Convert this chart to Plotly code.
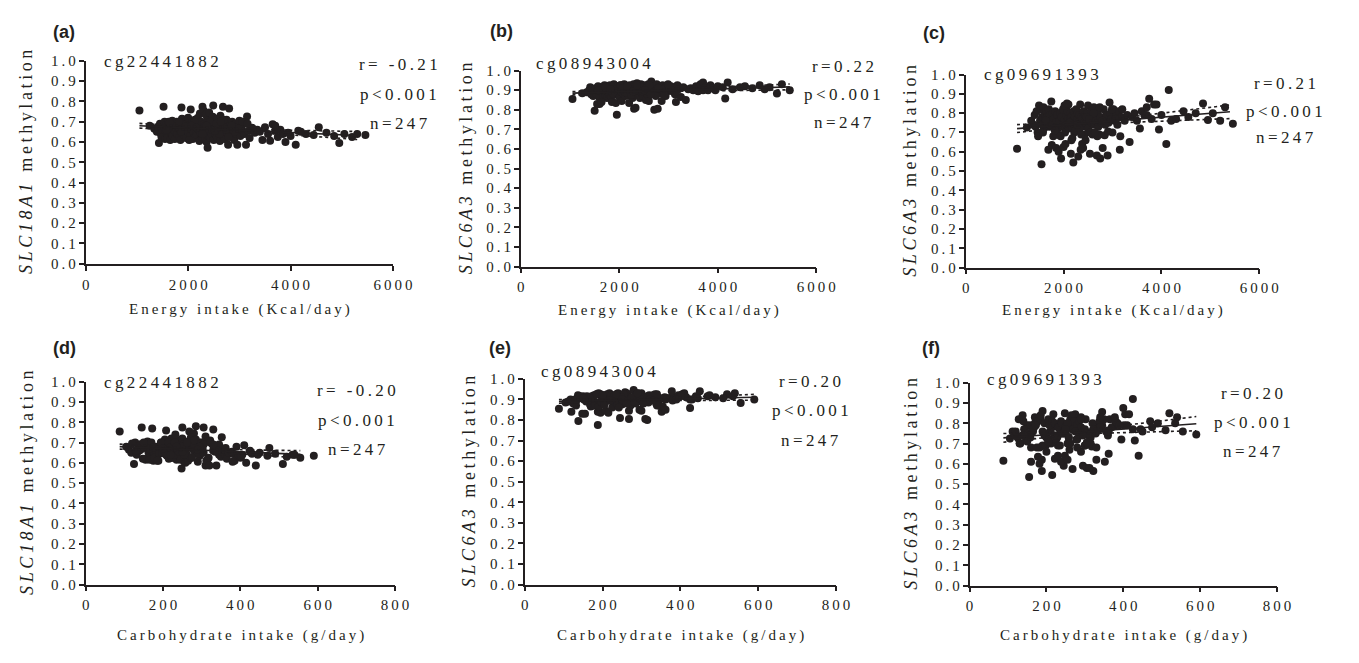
import numpy as np
import plotly.graph_objects as go

# ---------------- data ----------------
energy = [
    1050, 1250, 1340, 1390, 1410, 1430, 1450, 1470, 1480, 1500,
    1520, 1540, 1550, 1560, 1570, 1590, 1600, 1620, 1630, 1650,
    1660, 1670, 1690, 1700, 1710, 1720, 1740, 1750, 1760, 1780,
    1790, 1800, 1810, 1830, 1840, 1850, 1870, 1880, 1890, 1900,
    1920, 1930, 1950, 1960, 1970, 1990, 2000, 2010, 2030, 2040,
    2050, 2060, 2080, 2090, 2100, 2110, 2130, 2140, 2150, 2160,
    2170, 2190, 2200, 2210, 2220, 2230, 2250, 2260, 2270, 2280,
    2290, 2300, 2310, 2320, 2330, 2340, 2350, 2360, 2370, 2380,
    2390, 2400, 2410, 2420, 2440, 2450, 2460, 2480, 2490, 2500,
    2510, 2530, 2540, 2560, 2570, 2590, 2600, 2620, 2630, 2650,
    2660, 2680, 2700, 2710, 2730, 2750, 2760, 2780, 2800, 2820,
    2840, 2860, 2880, 2900, 2920, 2940, 2960, 2980, 3000, 3020,
    3050, 3080, 3100, 3130, 3150, 3180, 3200, 3250, 3300, 3350,
    3400, 3450, 3500, 3560, 3600, 3650, 3700, 3750, 3800, 3850,
    3900, 3950, 4000, 4100, 4150, 4200, 4300, 4450, 4550, 4700,
    4850, 4950, 5050, 5200, 5300, 5460,
    1580, 1720, 1860, 1940, 2020, 2120, 2180, 2240, 2330, 2430,
    2470, 2550, 2610, 2690, 2740, 2850, 2910, 3060, 1640, 2070,
    1820, 2160, 2280, 2360, 2520, 2640, 2790, 2990, 3160, 3700,
]

carbs = [
    88, 105, 112, 118, 150, 125, 140, 132, 160, 138,
    145, 128, 155, 162, 137, 170, 148, 158, 142, 175,
    152, 168, 160, 185, 158, 172, 165, 190, 178, 170,
    182, 165, 195, 178, 200, 188, 172, 205, 190, 182,
    210, 195, 188, 215, 200, 205, 222, 190, 212, 230,
    208, 225, 215, 235, 218, 205, 240, 222, 245, 230,
    228, 250, 215, 238, 255, 232, 245, 262, 225, 250,
    240, 268, 230, 252, 245, 275, 238, 258, 265, 248,
    270, 255, 280, 242, 262, 290, 258, 272, 285, 265,
    278, 262, 295, 272, 285, 300, 268, 290, 310, 280,
    295, 305, 285, 315, 300, 322, 290, 310, 330, 302,
    318, 300, 335, 312, 328, 345, 320, 338, 315, 350,
    330, 345, 360, 338, 352, 340, 365, 355, 380, 362,
    370, 385, 362, 395, 380, 410, 378, 400, 425, 405,
    415, 430, 402, 440, 425, 450, 445, 470, 475, 490,
    520, 510, 535, 555, 540, 590,
    130, 142, 198, 175, 185, 195, 260, 205, 280, 230,
    250, 305, 255, 280, 340, 295, 305, 322, 120, 248,
    150, 200, 220, 235, 250, 262, 275, 290, 330, 390,
]

meth_cg22441882 = [
    0.755, 0.680, 0.665, 0.650, 0.675, 0.595, 0.690, 0.640, 0.625, 0.660,
    0.774, 0.700, 0.615, 0.655, 0.685, 0.640, 0.620, 0.700, 0.665, 0.610,
    0.675, 0.645, 0.705, 0.630, 0.690, 0.660, 0.615, 0.680, 0.650, 0.700,
    0.640, 0.670, 0.690, 0.625, 0.660, 0.610, 0.770, 0.715, 0.650, 0.680,
    0.635, 0.700, 0.665, 0.620, 0.690, 0.655, 0.720, 0.645, 0.680, 0.630,
    0.760, 0.665, 0.700, 0.615, 0.675, 0.645, 0.710, 0.625, 0.690, 0.655,
    0.635, 0.720, 0.660, 0.685, 0.605, 0.740, 0.650, 0.700, 0.625, 0.774,
    0.670, 0.755, 0.640, 0.690, 0.615, 0.735, 0.660, 0.600, 0.705, 0.572,
    0.680, 0.630, 0.745, 0.655, 0.620, 0.695, 0.640, 0.725, 0.780, 0.610,
    0.670, 0.640, 0.700, 0.625, 0.715, 0.650, 0.685, 0.605, 0.730, 0.660,
    0.635, 0.774, 0.690, 0.615, 0.670, 0.710, 0.645, 0.587, 0.765, 0.680,
    0.625, 0.700, 0.655, 0.610, 0.690, 0.640, 0.587, 0.675, 0.705, 0.630,
    0.660, 0.690, 0.640, 0.587, 0.726, 0.655, 0.620, 0.670, 0.645, 0.660,
    0.650, 0.610, 0.673, 0.640, 0.606, 0.687, 0.655, 0.625, 0.660, 0.640,
    0.600, 0.645, 0.630, 0.587, 0.655, 0.650, 0.640, 0.635, 0.673, 0.645,
    0.630, 0.595, 0.640, 0.625, 0.640, 0.635,
    0.660, 0.690, 0.650, 0.675, 0.610, 0.700, 0.665, 0.645, 0.680, 0.700,
    0.660, 0.690, 0.640, 0.710, 0.660, 0.680, 0.650, 0.700, 0.695, 0.680,
    0.700, 0.670, 0.640, 0.680, 0.655, 0.700, 0.625, 0.665, 0.690, 0.680,
]

meth_cg08943004 = [
    0.855, 0.885, 0.890, 0.900, 0.915, 0.880, 0.905, 0.870, 0.895, 0.795,
    0.910, 0.880, 0.830, 0.900, 0.920, 0.865, 0.830, 0.895, 0.910, 0.885,
    0.900, 0.875, 0.915, 0.925, 0.890, 0.870, 0.905, 0.860, 0.920, 0.895,
    0.880, 0.910, 0.925, 0.870, 0.900, 0.840, 0.915, 0.890, 0.930, 0.875,
    0.905, 0.835, 0.775, 0.895, 0.920, 0.880, 0.910, 0.865, 0.925, 0.890,
    0.845, 0.905, 0.915, 0.880, 0.930, 0.895, 0.870, 0.920, 0.900, 0.885,
    0.910, 0.875, 0.835, 0.925, 0.895, 0.905, 0.880, 0.915, 0.860, 0.900,
    0.930, 0.805, 0.890, 0.920, 0.810, 0.905, 0.875, 0.935, 0.895, 0.910,
    0.880, 0.920, 0.900, 0.860, 0.930, 0.890, 0.915, 0.870, 0.905, 0.925,
    0.895, 0.915, 0.850, 0.905, 0.880, 0.930, 0.845, 0.910, 0.895, 0.945,
    0.905, 0.885, 0.920, 0.800, 0.910, 0.895, 0.930, 0.805, 0.900, 0.915,
    0.885, 0.845, 0.925, 0.900, 0.910, 0.870, 0.920, 0.895, 0.915, 0.905,
    0.920, 0.895, 0.910, 0.880, 0.840, 0.925, 0.905, 0.865, 0.915, 0.850,
    0.905, 0.910, 0.900, 0.920, 0.895, 0.930, 0.940, 0.915, 0.900, 0.925,
    0.910, 0.900, 0.920, 0.915, 0.858, 0.940, 0.905, 0.915, 0.920, 0.910,
    0.925, 0.905, 0.915, 0.883, 0.930, 0.900,
    0.900, 0.915, 0.885, 0.905, 0.925, 0.890, 0.910, 0.875, 0.900, 0.915,
    0.895, 0.910, 0.925, 0.890, 0.870, 0.905, 0.880, 0.900, 0.840, 0.910,
    0.905, 0.920, 0.895, 0.925, 0.900, 0.880, 0.910, 0.930, 0.895, 0.900,
]

meth_cg09691393 = [
    0.615, 0.725, 0.760, 0.740, 0.790, 0.730, 0.810, 0.700, 0.680, 0.840,
    0.760, 0.820, 0.535, 0.780, 0.740, 0.830, 0.720, 0.790, 0.770, 0.810,
    0.750, 0.780, 0.610, 0.820, 0.730, 0.790, 0.760, 0.860, 0.635, 0.800,
    0.680, 0.770, 0.740, 0.810, 0.750, 0.620, 0.790, 0.720, 0.690, 0.600,
    0.760, 0.800, 0.565, 0.780, 0.730, 0.820, 0.625, 0.760, 0.700, 0.640,
    0.790, 0.740, 0.810, 0.770, 0.845, 0.720, 0.760, 0.800, 0.590, 0.780,
    0.730, 0.760, 0.545, 0.810, 0.700, 0.780, 0.750, 0.820, 0.720, 0.770,
    0.800, 0.575, 0.740, 0.790, 0.760, 0.845, 0.610, 0.730, 0.780, 0.640,
    0.770, 0.620, 0.810, 0.750, 0.790, 0.660, 0.730, 0.800, 0.760, 0.840,
    0.720, 0.780, 0.590, 0.810, 0.750, 0.690, 0.770, 0.830, 0.740, 0.790,
    0.760, 0.580, 0.810, 0.730, 0.690, 0.565, 0.780, 0.750, 0.620, 0.820,
    0.685, 0.770, 0.790, 0.580, 0.750, 0.855, 0.800, 0.770, 0.700, 0.820,
    0.760, 0.790, 0.740, 0.810, 0.610, 0.780, 0.820, 0.760, 0.790, 0.650,
    0.780, 0.800, 0.760, 0.720, 0.810, 0.790, 0.830, 0.875, 0.770, 0.845,
    0.845, 0.715, 0.790, 0.640, 0.920, 0.760, 0.770, 0.810, 0.780, 0.800,
    0.850, 0.765, 0.800, 0.760, 0.830, 0.745,
    0.700, 0.740, 0.690, 0.680, 0.840, 0.750, 0.670, 0.710, 0.720, 0.690,
    0.780, 0.700, 0.800, 0.680, 0.830, 0.740, 0.705, 0.770, 0.760, 0.850,
    0.710, 0.660, 0.740, 0.690, 0.770, 0.700, 0.760, 0.820, 0.680, 0.790,
]

assert len(energy) == len(carbs) == len(meth_cg22441882) == len(meth_cg08943004) == len(meth_cg09691393)

# regression lines (start / end)
fit_x_start = [1050, 1050, 1050, 88, 88, 88]
fit_x_end = [5300, 5460, 5400, 555, 590, 590]
fit_y_start = [0.680, 0.885, 0.720, 0.680, 0.890, 0.728]
fit_y_end = [0.632, 0.917, 0.807, 0.642, 0.910, 0.798]

panel_labels = ["(a)", "(b)", "(c)", "(d)", "(e)", "(f)"]
cpg_labels = ["cg22441882", "cg08943004", "cg09691393", "cg22441882", "cg08943004", "cg09691393"]
gene_labels = ["SLC18A1", "SLC6A3", "SLC6A3", "SLC18A1", "SLC6A3", "SLC6A3"]
r_labels = ["r= -0.21", "r=0.22", "r=0.21", "r= -0.20", "r=0.20", "r=0.20"]
p_label = "p<0.001"
n_label = "n=247"
x_titles = ["Energy intake (Kcal/day)"] * 3 + ["Carbohydrate intake (g/day)"] * 3
energy_ticks = [0, 2000, 4000, 6000]
carb_ticks = [0, 200, 400, 600, 800]
y_ticks = [0.0, 0.1, 0.2, 0.3, 0.4, 0.5, 0.6, 0.7, 0.8, 0.9, 1.0]
y_tick_labels = ["0.0", "0.1", "0.2", "0.3", "0.4", "0.5", "0.6", "0.7", "0.8", "0.9", "1.0"]

# ---------------- layout geometry (window pixels) ----------------
WIN_W, WIN_H = 1359, 663
OFF = 8                      # default page margin around the plot div
W, H = WIN_W - 2 * OFF, WIN_H - 2 * OFF
boxes = [(83, 396, 54, 262), (526, 827, 64, 265), (979, 1278, 68, 266),
         (83, 398, 383, 591), (530, 847, 380, 591), (983, 1296, 384, 592)]
label_pos = [(48, 24), (493, 23), (934, 25), (48, 348), (492, 348), (933, 348)]
cpg_pos = [(100, 55), (540, 57), (996, 68), (100, 384), (545, 373), (999, 381)]
stat_pos = [(402, (58, 89, 118)), (854, (60, 88, 117)), (1304, (77, 106, 133)),
            (359, (392, 423, 453)), (821, (383, 413, 443)), (1271, (395, 425, 455))]
xtitle_y = [309, 310, 310, 643, 643, 643]
ytitle_x = [23, 470, 922, 23, 473, 923]

TS = "\u2009"  # thin space used to mimic the wide letter spacing


def sp(s):
    return TS.join(s)


def px(x):
    return (x - OFF) / W


def py(y):
    return 1 - (y - OFF) / H


INK = "#231F20"
SERIF = "Liberation Serif"
SANS = "Liberation Sans"

xs_list = [energy, energy, energy, carbs, carbs, carbs]
ys_list = [meth_cg22441882, meth_cg08943004, meth_cg09691393] * 2

fig = go.Figure()
annotations = []
layout_axes = {}

for i in range(6):
    sfx = "" if i == 0 else str(i + 1)
    xa, ya = "x" + sfx, "y" + sfx
    x = np.array(xs_list[i], dtype=float)
    y = np.array(ys_list[i], dtype=float)

    fig.add_trace(go.Scatter(x=x, y=y, mode="markers", xaxis=xa, yaxis=ya,
                             marker=dict(size=8, color=INK, line=dict(width=0)),
                             showlegend=False, hoverinfo="skip"))

    # regression line and 95% confidence band
    x1, x2, y1, y2 = fit_x_start[i], fit_x_end[i], fit_y_start[i], fit_y_end[i]
    slope = (y2 - y1) / (x2 - x1)
    xl = np.linspace(x1, x2, 60)
    yl = y1 + slope * (xl - x1)
    resid = y - (y1 + slope * (x - x1))
    n = len(x)
    s = np.sqrt(np.sum(resid ** 2) / (n - 2))
    xm = x.mean()
    sxx = np.sum((x - xm) ** 2)
    half = 1.97 * s * np.sqrt(1.0 / n + (xl - xm) ** 2 / sxx)
    for yy, dash in ((yl + half, "dot"), (yl - half, "dot"), (yl, "solid")):
        fig.add_trace(go.Scatter(x=xl, y=yy, mode="lines", xaxis=xa, yaxis=ya,
                                 line=dict(color=INK, width=1.6, dash=dash),
                                 showlegend=False, hoverinfo="skip"))

    l, r, t, b = boxes[i]
    xticks = energy_ticks if i < 3 else carb_ticks
    common = dict(showline=True, linecolor=INK, linewidth=1.6, ticks="outside",
                  ticklen=5, tickwidth=1.5, tickcolor=INK, showgrid=False,
                  zeroline=False, tickfont=dict(family=SERIF, size=15, color=INK))
    layout_axes["xaxis" + sfx] = dict(domain=[px(l), px(r)], range=[0, xticks[-1]],
                                      tickvals=xticks, ticktext=[sp(str(v)) for v in xticks],
                                      anchor=ya, ticklabelstandoff=1, **common)
    layout_axes["yaxis" + sfx] = dict(domain=[py(b), py(t)], range=[0, 1],
                                      tickvals=y_ticks, ticktext=[sp(v) for v in y_tick_labels],
                                      anchor=xa, **common)

    lx, ly = label_pos[i]
    annotations.append(dict(x=px(lx), y=py(ly), xref="paper", yref="paper", xanchor="left",
                            yanchor="middle", showarrow=False, text="<b>" + panel_labels[i] + "</b>",
                            font=dict(family=SANS, size=18, color=INK)))
    cx, cy = cpg_pos[i]
    annotations.append(dict(x=px(cx), y=py(cy), xref="paper", yref="paper", xanchor="left",
                            yanchor="middle", showarrow=False, text=sp(cpg_labels[i]),
                            font=dict(family=SERIF, size=17, color=INK)))
    sx, sys_ = stat_pos[i]
    for txt, yy in zip((r_labels[i], p_label, n_label), sys_):
        annotations.append(dict(x=px(sx), y=py(yy), xref="paper", yref="paper", xanchor="center",
                                yanchor="middle", showarrow=False, text=sp(txt),
                                font=dict(family=SERIF, size=17, color=INK)))
    annotations.append(dict(x=px((l + r) / 2), y=py(xtitle_y[i]), xref="paper", yref="paper",
                            xanchor="center", yanchor="middle", showarrow=False,
                            text=sp(x_titles[i]), font=dict(family=SERIF, size=15, color=INK)))
    ytxt = "<i>" + sp(gene_labels[i]) + "</i>" + TS + " " + TS + sp("methylation")
    annotations.append(dict(x=px(ytitle_x[i]), y=py((t + b) / 2), xref="paper", yref="paper",
                            xanchor="center", yanchor="middle", showarrow=False, textangle=-90,
                            text=ytxt, font=dict(family=SERIF, size=18, color=INK)))

fig.update_layout(width=W, height=H, margin=dict(l=0, r=0, t=0, b=0),
                  paper_bgcolor="white", plot_bgcolor="white",
                  annotations=annotations, **layout_axes)

fig.write_html("out.html")
